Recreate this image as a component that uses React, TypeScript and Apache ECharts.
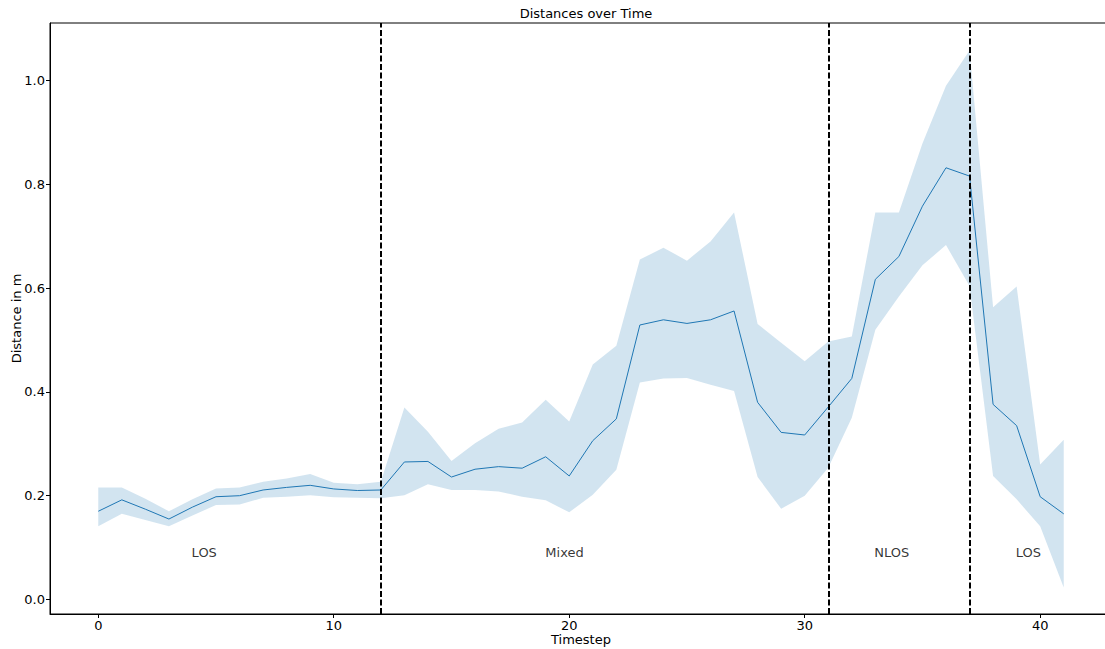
import React, { useEffect, useRef } from "react";
import * as echarts from "echarts";

const timesteps = [0,1,2,3,4,5,6,7,8,9,10,11,12,13,14,15,16,17,18,19,20,21,22,23,24,25,26,27,28,29,30,31,32,33,34,35,36,37,38,39,40,41];
const meanDist = [0.170,0.192,0.174,0.155,0.178,0.198,0.200,0.211,0.216,0.220,0.213,0.210,0.211,0.265,0.266,0.236,0.251,0.256,0.253,0.275,0.238,0.306,0.348,0.529,0.539,0.532,0.539,0.556,0.380,0.322,0.317,0.371,0.426,0.617,0.661,0.758,0.832,0.816,0.376,0.335,0.198,0.165];
const upperDist = [0.216,0.216,0.194,0.170,0.193,0.214,0.216,0.227,0.233,0.242,0.225,0.222,0.227,0.370,0.323,0.267,0.301,0.329,0.341,0.385,0.343,0.453,0.489,0.655,0.678,0.653,0.690,0.746,0.531,0.495,0.459,0.497,0.507,0.746,0.746,0.879,0.990,1.058,0.563,0.603,0.260,0.308];
const lowerDist = [0.141,0.165,0.153,0.141,0.162,0.182,0.183,0.196,0.198,0.201,0.197,0.196,0.195,0.201,0.222,0.211,0.211,0.208,0.198,0.191,0.168,0.202,0.250,0.418,0.426,0.427,0.414,0.402,0.236,0.175,0.200,0.254,0.350,0.520,0.584,0.644,0.683,0.604,0.238,0.193,0.141,0.023];
const boundaries = [12, 31, 37];
const regionNames = ["LOS", "Mixed", "NLOS", "LOS"];
const regionLabelX = [4.5, 19.8, 33.7, 39.5];
const regionLabelY = 0.09;

const FONT = "DejaVu Sans";

export default function App() {
  const ref = useRef<HTMLDivElement>(null);
  useEffect(() => {
    if (!ref.current) return;
    const chart = echarts.init(ref.current, null, { renderer: "svg" });
    const meanData = timesteps.map((t, i) => [t, meanDist[i]]);
    chart.setOption({
      animation: false,
      backgroundColor: "#ffffff",
      title: {
        text: "Distances over Time",
        left: 581,
        top: 2,
        textAlign: "center",
        textStyle: { fontFamily: FONT, fontSize: 13, fontWeight: "normal", color: "#000" },
      },
      grid: {
        left: 50, top: 23, width: 1062, height: 591, containLabel: false, outerBoundsMode: "none",
        show: true, borderColor: "#000", borderWidth: 1, backgroundColor: "transparent",
      },
      xAxis: {
        type: "value",
        min: -2.05,
        max: 43.05,
        splitNumber: 5,
        name: "Timestep",
        nameLocation: "middle",
        nameGap: 19,
        nameMoveOverlap: false,
        nameTextStyle: { fontFamily: FONT, fontSize: 13, color: "#000", verticalAlign: "top" },
        axisLine: { show: true, onZero: false, lineStyle: { color: "#000", width: 1 } },
        axisTick: { show: true, length: 4, lineStyle: { color: "#000" } },
        axisLabel: { fontFamily: FONT, fontSize: 13, color: "#000", margin: 5, showMinLabel: false, showMaxLabel: false },
        splitLine: { show: false },
      },
      yAxis: {
        type: "value",
        min: -0.028,
        max: 1.111,
        splitNumber: 6,
        name: "Distance in m",
        nameLocation: "middle",
        nameGap: 27,
        nameMoveOverlap: false,
        nameTextStyle: { fontFamily: FONT, fontSize: 13, color: "#000" },
        axisLine: { show: true, onZero: false, lineStyle: { color: "#000", width: 1 } },
        axisTick: { show: true, length: 4, lineStyle: { color: "#000" } },
        axisLabel: {
          fontFamily: FONT, fontSize: 13, color: "#000", margin: 5,
          showMinLabel: false, showMaxLabel: false,
          formatter: (v: number) => v.toFixed(1),
        },
        splitLine: { show: false },
      },
      series: [
        {
          type: "custom",
          data: [[0]],
          silent: true,
          z: 1,
          clip: true,
          renderItem: (params: any, api: any) => {
            if (params.dataIndex !== 0) return null;
            const pts: number[][] = [];
            for (let i = 0; i < timesteps.length; i++) pts.push(api.coord([timesteps[i], upperDist[i]]));
            for (let i = timesteps.length - 1; i >= 0; i--) pts.push(api.coord([timesteps[i], lowerDist[i]]));
            return {
              type: "polygon",
              shape: { points: pts },
              style: { fill: "#1f77b4", opacity: 0.2, stroke: "none" },
            };
          },
        },
        {
          type: "line",
          data: meanData,
          symbol: "none",
          lineStyle: { color: "#1f77b4", width: 1 },
          z: 3,
          markLine: {
            silent: true,
            symbol: "none",
            label: { show: false },
            lineStyle: { color: "#000", width: 2, type: [6, 2.5] },
            data: boundaries.map((b) => ({ xAxis: b })),
            z: 5,
          },
        },
        {
          type: "scatter",
          data: regionNames.map((n, i) => [regionLabelX[i], regionLabelY, n]),
          symbolSize: 0,
          silent: true,
          label: {
            show: true,
            position: "inside",
            formatter: (p: any) => p.data[2],
            fontFamily: FONT,
            fontSize: 13,
            color: "#000",
          },
          z: 6,
        },
      ],
    });
    return () => chart.dispose();
  }, []);
  return (
    <div
      ref={ref}
      style={{ position: "fixed", left: 0, top: 0, width: 1105, height: 649 }}
    />
  );
}
